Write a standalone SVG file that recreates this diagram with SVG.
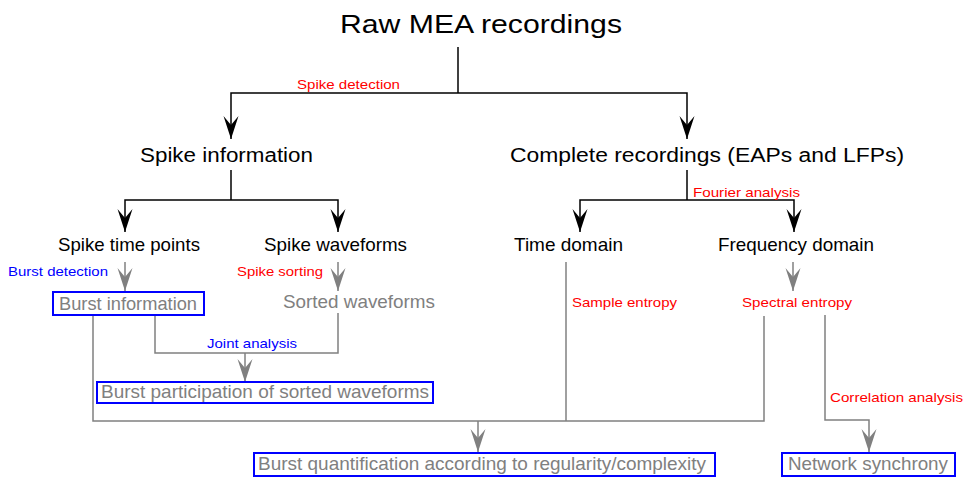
<svg xmlns="http://www.w3.org/2000/svg" width="967" height="477" viewBox="0 0 967 477">
<style>
text{font-family:"Liberation Sans",Arial,sans-serif}
.t1{font-size:26px;fill:#000}
.t2{font-size:20px;fill:#000}
.t3{font-size:18.5px;fill:#000}
.g{font-size:18.5px;fill:#808080}
.r{font-size:13.5px;fill:#ff0000}
.b{font-size:13.5px;fill:#0000ff}
.kl{fill:none;stroke:#000;stroke-width:1.5}
.gl{fill:none;stroke:#808080;stroke-width:1.5}
.box{fill:#fff;stroke:#0000ff;stroke-width:2}
</style>
<defs>
<marker id="ak" markerUnits="userSpaceOnUse" markerWidth="28" markerHeight="18" viewBox="-26 -9 28 18" refX="0" refY="0" orient="auto">
<path d="M0 0 L-23 -7.5 L-14 0 L-23 7.5 Z" fill="#000"/>
</marker>
<marker id="ag" markerUnits="userSpaceOnUse" markerWidth="28" markerHeight="18" viewBox="-26 -9 28 18" refX="0" refY="0" orient="auto">
<path d="M0 0 L-23 -7.5 L-14 0 L-23 7.5 Z" fill="#808080"/>
</marker>
</defs>
<g id="connectors">
<path class="kl" d="M458 47 V93"/>
<path class="kl" d="M458 93 H231 V139" marker-end="url(#ak)"/>
<path class="kl" d="M458 93 H687 V139" marker-end="url(#ak)"/>
<path class="kl" d="M231 170 V200"/>
<path class="kl" d="M231 200 H125 V232" marker-end="url(#ak)"/>
<path class="kl" d="M231 200 H338 V232" marker-end="url(#ak)"/>
<path class="kl" d="M687 170 V200"/>
<path class="kl" d="M687 200 H580 V232" marker-end="url(#ak)"/>
<path class="kl" d="M687 200 H794 V232" marker-end="url(#ak)"/>
<path class="gl" d="M125 262 V291" marker-end="url(#ag)"/>
<path class="gl" d="M338 262 V291" marker-end="url(#ag)"/>
<path class="gl" d="M793 262 V291" marker-end="url(#ag)"/>
<path class="gl" d="M155 316 V353 H338 V313"/>
<path class="gl" d="M245 353 V382" marker-end="url(#ag)"/>
<path class="gl" d="M93 316 V421 H764 V316"/>
<path class="gl" d="M566 262 V421"/>
<path class="gl" d="M478 421 V452" marker-end="url(#ag)"/>
<path class="gl" d="M825 315 V420 H869 V452" marker-end="url(#ag)"/>
</g>
<g id="lbl-spike-detection"><text class="r" x="297" y="89" textLength="103" lengthAdjust="spacingAndGlyphs">Spike detection</text></g>
<g id="lbl-fourier"><text class="r" x="693" y="197" textLength="107" lengthAdjust="spacingAndGlyphs">Fourier analysis</text></g>
<g id="lbl-burst-detection"><text class="b" x="8" y="276" textLength="100" lengthAdjust="spacingAndGlyphs">Burst detection</text></g>
<g id="lbl-spike-sorting"><text class="r" x="237" y="276" textLength="86" lengthAdjust="spacingAndGlyphs">Spike sorting</text></g>
<g id="lbl-sample-entropy"><text class="r" x="572" y="307" textLength="105" lengthAdjust="spacingAndGlyphs">Sample entropy</text></g>
<g id="lbl-joint"><text class="b" x="207" y="348" textLength="90" lengthAdjust="spacingAndGlyphs">Joint analysis</text></g>
<g id="lbl-correlation"><text class="r" x="830" y="402" textLength="133" lengthAdjust="spacingAndGlyphs">Correlation analysis</text></g>
<g id="n-raw"><text class="t1" x="340" y="33" textLength="282" lengthAdjust="spacingAndGlyphs">Raw MEA recordings</text></g>
<g id="n-spike-info"><text class="t2" x="140" y="162" textLength="173" lengthAdjust="spacingAndGlyphs">Spike information</text></g>
<g id="n-complete"><text class="t2" x="510" y="162" textLength="394" lengthAdjust="spacingAndGlyphs">Complete recordings (EAPs and LFPs)</text></g>
<g id="n-time-points"><text class="t3" x="58" y="251" textLength="142" lengthAdjust="spacingAndGlyphs">Spike time points</text></g>
<g id="n-waveforms"><text class="t3" x="264" y="251" textLength="143" lengthAdjust="spacingAndGlyphs">Spike waveforms</text></g>
<g id="n-time-domain"><text class="t3" x="514" y="251" textLength="109" lengthAdjust="spacingAndGlyphs">Time domain</text></g>
<g id="n-freq-domain"><text class="t3" x="718" y="251" textLength="156" lengthAdjust="spacingAndGlyphs">Frequency domain</text></g>
<g id="n-burst-info"><rect class="box" x="53" y="292" width="151" height="23"/><text class="g" x="59" y="310" textLength="138" lengthAdjust="spacingAndGlyphs">Burst information</text></g>
<g id="n-sorted"><text class="g" x="283" y="308" textLength="152" lengthAdjust="spacingAndGlyphs">Sorted waveforms</text></g>
<g id="n-spectral"><text class="r" x="742" y="307" textLength="110" lengthAdjust="spacingAndGlyphs">Spectral entropy</text></g>
<g id="n-participation"><rect class="box" x="97" y="382" width="336" height="21"/><text class="g" x="101" y="398" textLength="328" lengthAdjust="spacingAndGlyphs">Burst participation of sorted waveforms</text></g>
<g id="n-quant"><rect class="box" x="254" y="453" width="461" height="23"/><text class="g" x="258" y="470" textLength="448" lengthAdjust="spacingAndGlyphs">Burst quantification according to regularity/complexity</text></g>
<g id="n-sync"><rect class="box" x="782" y="453" width="173" height="23"/><text class="g" x="788" y="470" textLength="160" lengthAdjust="spacingAndGlyphs">Network synchrony</text></g>
</svg>
